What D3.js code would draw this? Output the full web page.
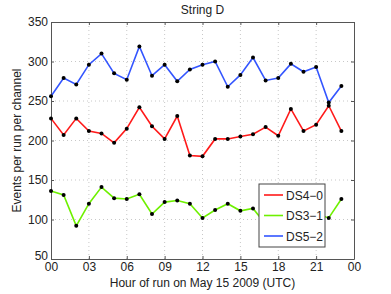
<!doctype html>
<html lang="en">
<head>
<meta charset="utf-8">
<title>String D</title>
<script src="https://d3js.org/d3.v7.min.js"></script>
<style>
  body { margin: 0; background: #fff; }
  svg text { font-family: "Liberation Sans", Arial, sans-serif; fill: #222; }
</style>
</head>
<body>
<script>
// hours of the run (UTC)
var hours = d3.range(0, 24);

// events per run per channel
var ds40 = [228, 207, 228, 212, 209, 197, 215, 242, 218, 202, 231, 181,
            180, 202, 202, 205, 208, 217, 206, 240, 212, 220, 244, 212];
var ds31 = [136, 131, 92, 120, 141, 127, 126, 132, 107, 122, 124, 120,
            102, 112, 120, 111, 114, 94, 104, 110, 100, 107, 102, 126];
var ds52 = [256, 279, 271, 296, 310, 285, 277, 319, 282, 296, 275, 290,
            296, 300, 268, 283, 305, 276, 279, 297, 287, 293, 248, 269];

var seriesNames = ['DS4\u22120', 'DS3\u22121', 'DS5\u22122'];
var seriesColors = ['#ff1a1a', '#6ef000', '#3355ff'];
var seriesData = [ds40, ds31, ds52];

var xTicks = [0, 3, 6, 9, 12, 15, 18, 21, 24];
var xTickLabels = ['00', '03', '06', '09', '12', '15', '18', '21', '00'];
var yTicks = [50, 100, 150, 200, 250, 300, 350];

var width = 391,
    height = 294;
var margin = {left: 51, right: 37, top: 22, bottom: 35};
var pw = width - margin.left - margin.right,
    ph = height - margin.top - margin.bottom;

var svg = d3.select('body').append('svg')
  .attr('width', width)
  .attr('height', height);

var x = d3.scaleLinear().domain([0, 24]).range([margin.left, margin.left + pw]);
var y = d3.scaleLinear().domain([50, 350]).range([margin.top + ph, margin.top]);

// dotted grid
var grid = svg.append('g');
grid.selectAll('.gx')
  .data(xTicks.slice(1, -1))
  .enter().append('line')
  .attr('x1', d => x(d)).attr('x2', d => x(d))
  .attr('y1', margin.top).attr('y2', margin.top + ph)
  .attr('stroke', '#c8c8c8').attr('stroke-width', 1)
  .attr('stroke-dasharray', '1,3');
grid.selectAll('.gy')
  .data(yTicks.slice(1, -1))
  .enter().append('line')
  .attr('x1', margin.left).attr('x2', margin.left + pw)
  .attr('y1', d => y(d)).attr('y2', d => y(d))
  .attr('stroke', '#c8c8c8').attr('stroke-width', 1)
  .attr('stroke-dasharray', '1,3');

// axes
var xAxis = svg.append('g')
  .attr('transform', 'translate(0,' + (margin.top + ph) + ')')
  .call(d3.axisBottom(x).tickValues(xTicks).tickSizeInner(-3).tickSizeOuter(0)
    .tickPadding(3).tickFormat((d, i) => xTickLabels[i]));
var yAxis = svg.append('g')
  .attr('transform', 'translate(' + margin.left + ',0)')
  .call(d3.axisLeft(y).tickValues(yTicks).tickSizeInner(-3).tickSizeOuter(0).tickPadding(3));
var xTop = svg.append('g')
  .attr('transform', 'translate(0,' + margin.top + ')')
  .call(d3.axisTop(x).tickValues(xTicks).tickSizeInner(-3).tickSizeOuter(0).tickFormat(''));
var yRight = svg.append('g')
  .attr('transform', 'translate(' + (margin.left + pw) + ',0)')
  .call(d3.axisRight(y).tickValues(yTicks).tickSizeInner(-3).tickSizeOuter(0).tickFormat(''));

[xAxis, yAxis, xTop, yRight].forEach(function(a) {
  a.select('.domain').attr('stroke', '#555');
  a.selectAll('.tick line').attr('stroke', '#555');
  a.selectAll('.tick text').attr('font-size', 12)
    .attr('font-family', '"Liberation Sans", Arial, sans-serif').attr('fill', '#222');
});
// the bottom y label sits a little high, as in the original
yAxis.selectAll('.tick text').filter(d => d === 50).attr('y', -3);

// lines and markers
var line = d3.line()
  .x((d, i) => x(hours[i]))
  .y(d => y(d));

seriesData.forEach(function(s, k) {
  svg.append('path')
    .datum(s)
    .attr('fill', 'none')
    .attr('stroke', seriesColors[k])
    .attr('stroke-width', 1.6)
    .attr('d', line);
  svg.append('g').selectAll('circle')
    .data(s)
    .enter().append('circle')
    .attr('cx', (d, i) => x(hours[i]))
    .attr('cy', d => y(d))
    .attr('r', 2)
    .attr('fill', '#000');
});

// title and labels
svg.append('text')
  .attr('x', margin.left + pw / 2).attr('y', 14)
  .attr('text-anchor', 'middle').attr('font-size', 12)
  .text('String D');
svg.append('text')
  .attr('x', margin.left + pw / 2).attr('y', 287)
  .attr('text-anchor', 'middle').attr('font-size', 12)
  .text('Hour of run on May 15 2009 (UTC)');
svg.append('text')
  .attr('transform', 'translate(21,' + (margin.top + ph / 2) + ') rotate(-90)')
  .attr('text-anchor', 'middle').attr('font-size', 12)
  .text('Events per run per channel');

// legend
var lg = svg.append('g').attr('transform', 'translate(259,184)');
lg.append('rect')
  .attr('width', 66).attr('height', 63)
  .attr('fill', '#fff').attr('stroke', '#444').attr('stroke-width', 1);
seriesNames.forEach(function(n, k) {
  var yy = 11 + k * 20.5;
  lg.append('line')
    .attr('x1', 5).attr('x2', 24).attr('y1', yy).attr('y2', yy)
    .attr('stroke', seriesColors[k]).attr('stroke-width', 1.6);
  lg.append('text')
    .attr('x', 27).attr('y', yy + 4.5)
    .attr('font-size', 12)
    .text(n);
});
</script>
</body>
</html>
